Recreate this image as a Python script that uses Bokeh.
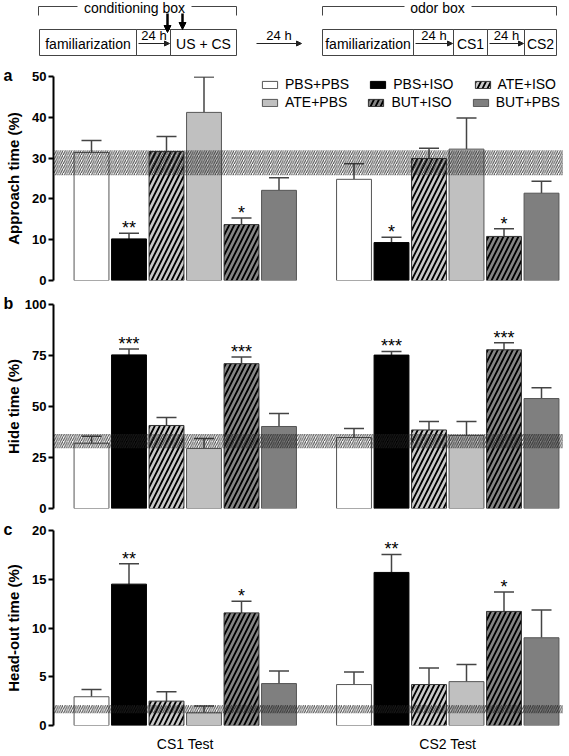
import math
from bokeh.plotting import figure
from bokeh.models import (Range1d, FixedTicker, BoxAnnotation, Whisker, TeeHead, Title,
                          Legend, LegendItem, ColumnDataSource, Arrow, NormalHead)
from bokeh.layouts import column
from bokeh.core.properties import value
from bokeh.embed import file_html
from bokeh.resources import INLINE

FONT = "Liberation Sans"

# ---------------- data ----------------
treatments = ["PBS+PBS", "PBS+ISO", "ATE+ISO", "ATE+PBS", "BUT+ISO", "BUT+PBS"]
tests = ["CS1 Test", "CS2 Test"]

approach_cs1 = [31.4, 10.2, 31.6, 41.2, 13.7, 22.1]
approach_cs2 = [24.8, 9.3, 29.9, 32.2, 10.8, 21.4]
approach_sem_cs1 = [2.9, 1.4, 3.7, 8.7, 1.6, 3.1]
approach_sem_cs2 = [3.8, 1.3, 2.5, 7.6, 1.9, 2.9]
approach_sig_cs1 = ["", "**", "", "", "*", ""]
approach_sig_cs2 = ["", "*", "", "", "*", ""]
approach_band = [25.8, 31.9]
approach_ticks = [0, 10, 20, 30, 40, 50]

hide_cs1 = [32.0, 75.3, 40.7, 29.4, 71.0, 40.2]
hide_cs2 = [34.8, 75.2, 38.5, 35.8, 77.8, 53.9]
hide_sem_cs1 = [3.4, 2.9, 3.9, 4.9, 3.3, 6.4]
hide_sem_cs2 = [4.4, 1.8, 4.1, 6.8, 3.4, 5.3]
hide_sig_cs1 = ["", "***", "", "", "***", ""]
hide_sig_cs2 = ["", "***", "", "", "***", ""]
hide_band = [29.5, 36.5]
hide_ticks = [0, 25, 50, 75, 100]

headout_cs1 = [2.95, 14.5, 2.5, 1.3, 11.55, 4.3]
headout_cs2 = [4.2, 15.7, 4.2, 4.5, 11.7, 9.0]
headout_sem_cs1 = [0.75, 2.1, 0.95, 0.7, 1.2, 1.3]
headout_sem_cs2 = [1.3, 1.85, 1.7, 1.75, 2.0, 2.85]
headout_sig_cs1 = ["", "**", "", "", "*", ""]
headout_sig_cs2 = ["", "**", "", "", "*", ""]
headout_band = [1.25, 2.1]
headout_ticks = [0, 5, 10, 15, 20]

# schematic (diagram) content
sch_box_labels = ["familiarization", "", "US + CS", "familiarization", "", "CS1", "", "CS2"]
sch_box_left = [39, 136, 170, 322, 413, 453, 487, 524]
sch_box_right = [136, 170, 236, 413, 453, 487, 524, 556]
sch_box_top = 29
sch_box_bottom = 55
sch_delay_label = "24 h"
sch_delay_x0 = [138, 256, 415, 489]
sch_delay_x1 = [169, 301, 452, 523]
sch_bracket_labels = ["conditioning box", "odor box"]
sch_bracket_left = [38, 322]
sch_bracket_right = [236, 556]
sch_bracket_text_x = [134, 437]
sch_bracket_gap = [[77, 191], [404, 471]]
sch_stim_x = [167, 182]

# ---------------- styles ----------------
fills = ["white", "black", "#c9c9c9", "#c0c0c0", "#858585", "#7f7f7f"]
hatches = [None, None, "/", None, "/", None]
edges = ["#555555", "#000000", "#333333", "#555555", "#333333", "#555555"]
ERR = "#444444"

W = 563
LEFT = 53
PX_PER_UNIT = 37.5
X_LO = -38 / PX_PER_UNIT
X_HI = X_LO + (W - LEFT) / PX_PER_UNIT
step = len(treatments) + 1


def make_panel(m1, m2, s1, s2, g1, g2, band, ticks, ylabel, letter, h, top, bottom,
               label_standoff, show_x=False, legend=False):
    ymax = ticks[-1]
    p = figure(width=W, height=h, x_range=Range1d(X_LO, X_HI), y_range=Range1d(0, ymax),
               output_backend="svg", toolbar_location=None,
               x_axis_location="below" if show_x else None,
               min_border_left=LEFT, min_border_right=0, min_border_top=top,
               min_border_bottom=bottom, outline_line_color=None)
    p.xgrid.visible = False
    p.ygrid.visible = False

    renderers = []
    for i, t in enumerate(treatments):
        src = ColumnDataSource(dict(x=[i, step + i], top=[m1[i], m2[i]]))
        kw = dict(x="x", top="top", bottom=0, width=0.93, source=src,
                  fill_color=fills[i], line_color=edges[i], line_width=1)
        if hatches[i]:
            kw.update(hatch_pattern=hatches[i], hatch_color="black", hatch_scale=10,
                      hatch_weight=1.8)
        r = p.vbar(**kw)
        renderers.append(r)

    xs = [g * step + i for g in range(2) for i in range(len(treatments))]
    tops = list(m1) + list(m2)
    errs = [m + s for m, s in zip(m1, s1)] + [m + s for m, s in zip(m2, s2)]
    sigs = list(g1) + list(g2)
    esrc = ColumnDataSource(dict(x=xs, top=tops, err=errs, sig=sigs))

    p.add_layout(BoxAnnotation(bottom=band[0], top=band[1], fill_alpha=0, line_alpha=0,
                               hatch_pattern="/", hatch_color="#222222", hatch_scale=4.5,
                               hatch_weight=1, hatch_alpha=0.85))
    p.add_layout(Whisker(source=esrc, base="x", lower="top", upper="err",
                         dimension="height", line_color=ERR, line_width=1.5,
                         upper_head=TeeHead(size=20, line_color=ERR, line_width=1.5),
                         lower_head=None))
    p.text(x="x", y="err", text="sig", source=esrc, text_align="center",
           text_baseline="alphabetic", y_offset=-5, text_font=value(FONT),
           text_font_size="18px", text_color="black")

    ax = p.yaxis[0]
    ax.ticker = FixedTicker(ticks=ticks)
    ax.axis_line_width = 2
    ax.axis_line_color = "black"
    ax.major_tick_line_width = 2
    ax.major_tick_line_color = "black"
    ax.major_tick_out = 5
    ax.major_tick_in = 0
    ax.minor_tick_line_color = None
    ax.major_label_text_font = FONT
    ax.major_label_text_font_style = "bold"
    ax.major_label_text_font_size = "13px"
    ax.major_label_text_color = "black"
    ax.major_label_standoff = 2
    ax.axis_label = ylabel
    ax.axis_label_standoff = label_standoff
    ax.axis_label_text_font = FONT
    ax.axis_label_text_font_style = "bold"
    ax.axis_label_text_font_size = "15px"
    ax.axis_label_text_color = "black"

    p.add_layout(Title(text=letter, align="left", offset=-50, standoff=-15,
                       vertical_align="bottom", text_font=FONT, text_font_style="bold",
                       text_font_size="16px", text_color="black"), "above")

    if show_x:
        xa = p.xaxis[0]
        centers = [g * step + (len(treatments) - 1) / 2 for g in range(len(tests))]
        xa.ticker = FixedTicker(ticks=centers)
        xa.major_label_overrides = {c: t for c, t in zip(centers, tests)}
        xa.axis_line_color = None
        xa.major_tick_line_color = None
        xa.minor_tick_line_color = None
        xa.major_label_standoff = 4
        xa.major_label_text_font = FONT
        xa.major_label_text_font_size = "14px"
        xa.major_label_text_color = "black"

    if legend:
        rows = [[0, 1, 2], [3, 4, 5]]
        ys = [188, 170]
        for row, yb in zip(rows, ys):
            lg = Legend(items=[LegendItem(label=treatments[k], renderers=[renderers[k]])
                               for k in row],
                        location=(207, yb), orientation="horizontal",
                        padding=0, margin=0, spacing=19, glyph_width=19, glyph_height=9,
                        label_standoff=6, label_height=16,
                        label_text_font=FONT, label_text_font_size="14px",
                        label_text_color="black", border_line_alpha=0,
                        background_fill_alpha=0)
            p.add_layout(lg)
    return p


# ---------------- schematic ----------------
s = figure(width=W, height=56, x_range=Range1d(0, W), y_range=Range1d(56, 0),
           output_backend="svg", toolbar_location=None, x_axis_location=None,
           y_axis_location=None, min_border=0, outline_line_color=None)
s.xgrid.visible = False
s.ygrid.visible = False
s.quad(left=sch_box_left, right=sch_box_right, top=sch_box_top, bottom=sch_box_bottom,
       fill_color=None, line_color="#444444", line_width=1)
bsrc = ColumnDataSource(dict(x=[(a + b) / 2 for a, b in zip(sch_box_left, sch_box_right)],
                             y=[(sch_box_top + sch_box_bottom) / 2 + 1] * len(sch_box_left),
                             t=sch_box_labels))
s.text(x="x", y="y", text="t", source=bsrc, text_align="center", text_baseline="middle",
       text_font=value(FONT), text_font_size="14px", text_color="black")
dsrc = ColumnDataSource(dict(x0=sch_delay_x0, x1=sch_delay_x1,
                             y=[43] * len(sch_delay_x0)))
s.add_layout(Arrow(source=dsrc, x_start="x0", x_end="x1", y_start="y", y_end="y",
                   line_color="#222222", line_width=1,
                   end=NormalHead(size=5, fill_color="#222222", line_color="#222222")))
s.text(x=[(a + b) / 2 for a, b in zip(sch_delay_x0, sch_delay_x1)],
       y=[35] * len(sch_delay_x0), text=[sch_delay_label] * len(sch_delay_x0),
       text_align="center", text_baseline="middle", text_font=value(FONT),
       text_font_size="13px", text_color="black")
for i in range(2):
    L, R = sch_bracket_left[i], sch_bracket_right[i]
    g0, g1 = sch_bracket_gap[i]
    s.multi_line(xs=[[L, L, g0], [g1, R, R]], ys=[[15, 6, 6], [6, 6, 15]],
                 line_color="#444444", line_width=1)
s.text(x=sch_bracket_text_x, y=[7, 7], text=sch_bracket_labels, text_align="center",
       text_baseline="middle", text_font=value(FONT), text_font_size="14px",
       text_color="black")
asrc = ColumnDataSource(dict(x=sch_stim_x, y0=[13, 13], y1=[32, 29]))
s.add_layout(Arrow(source=asrc, x_start="x", x_end="x", y_start="y0", y_end="y1",
                   line_color="black", line_width=2.5,
                   end=NormalHead(size=7, fill_color="black", line_color="black")))

pa = make_panel(approach_cs1, approach_cs2, approach_sem_cs1, approach_sem_cs2,
                approach_sig_cs1, approach_sig_cs2, approach_band, approach_ticks,
                "Approach time (%)", "a", 232, 20, 8, 7, legend=True)
pb = make_panel(hide_cs1, hide_cs2, hide_sem_cs1, hide_sem_cs2, hide_sig_cs1, hide_sig_cs2,
                hide_band, hide_ticks, "Hide time (%)", "b", 228, 16, 8, 0)
pc = make_panel(headout_cs1, headout_cs2, headout_sem_cs1, headout_sem_cs2,
                headout_sig_cs1, headout_sig_cs2, headout_band, headout_ticks,
                "Head-out time (%)", "c", 238, 14, 20, 7, show_x=True)

layout = column(s, column(pa, pb, pc, spacing=0), spacing=0)
open("out.html", "w").write(file_html(layout, INLINE))
